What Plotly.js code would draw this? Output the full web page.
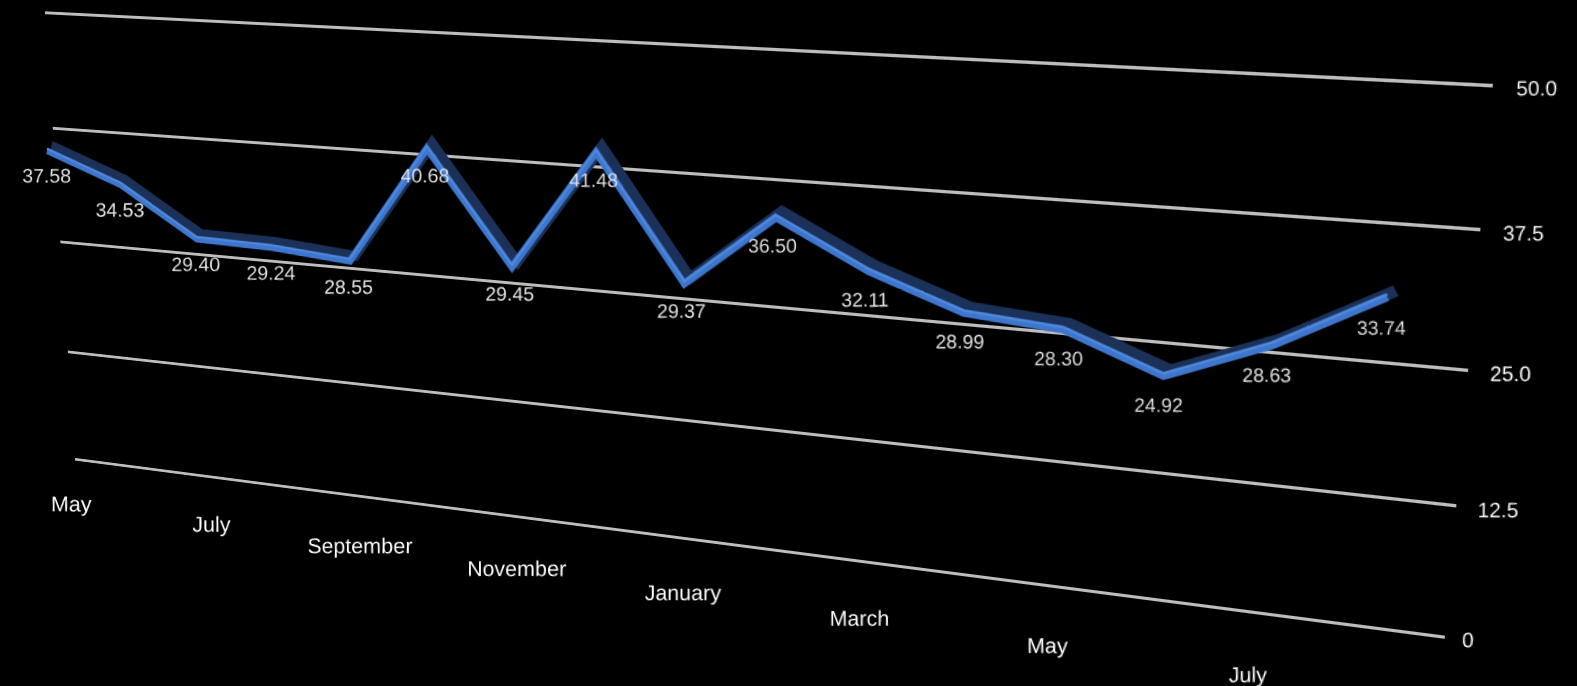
<!DOCTYPE html>
<html>
<head>
<meta charset="utf-8">
<script src="https://cdn.plot.ly/plotly-3.0.1.min.js"></script>
<style>
  html, body { margin: 0; padding: 0; background: #000; overflow: hidden; width: 1577px; height: 686px; }
  .layer { position: absolute; left: 0; top: 0; transform-origin: 0 0; }
</style>
</head>
<body>
<div id="grid" class="layer"></div>
<div id="series" class="layer"></div>
<script>
// Monthly values, May through August of the following year
const months = ["May", "June", "July", "August", "September", "October", "November", "December",
                "January", "February", "March", "April", "May", "June", "July", "August"];
const values = [37.58, 34.53, 29.40, 29.24, 28.55, 40.68, 29.45, 41.48,
                29.37, 36.50, 32.11, 28.99, 28.30, 24.92, 28.63, 33.74];
// Category labels shown on the floor (every other month)
const xTickIdx = [0, 2, 4, 6, 8, 10, 12, 14];
const xTickText = ["May", "July", "September", "November", "January", "March", "May", "July"];
// Value axis ticks
const yTickVals = [0, 12.5, 25, 37.5, 50];
const yTickText = ["0", "12.5", "25.0", "37.5", "50.0"];

// ---- flat frame shared by both layers ----
const M = { l: 80, t: 60, r: 150, b: 140 };
const W = 1400, H = 500;
const FW = M.l + W + M.r, FH = M.t + H + M.b;
const fontFamily = "Liberation Sans, Arial, Helvetica, sans-serif";

// Axis ranges of each layer
const gridX = [0, 1], gridY = [-0.8, 50.8];
const dataX = [-0.6, 15.6], dataY = [-0.8, 50.8];
const vMin = 0, vMax = 50, iFirst = 0, iLast = values.length - 1;

// Screen corners (top-left, top-right, bottom-right, bottom-left) of the back grid plane
// and of the series plane that sits a little in front of it
const gridQuad = [[45, 13], [1493, 86], [1445, 637], [75, 459]];
const dataQuad = [[39, 34], [1404, 106], [1355, 668], [70, 486]];

const fx = (x, r) => M.l + W * (x - r[0]) / (r[1] - r[0]);
const fy = (y, r) => M.t + H * (r[1] - y) / (r[1] - r[0]);

// Projective transform from four point pairs
function homography(src, dst) {
  const A = [], b = [];
  for (let k = 0; k < 4; k++) {
    const [x, y] = src[k], [u, v] = dst[k];
    A.push([x, y, 1, 0, 0, 0, -u * x, -u * y]); b.push(u);
    A.push([0, 0, 0, x, y, 1, -v * x, -v * y]); b.push(v);
  }
  const n = 8;
  for (let c = 0; c < n; c++) {
    let p = c;
    for (let r = c + 1; r < n; r++) if (Math.abs(A[r][c]) > Math.abs(A[p][c])) p = r;
    [A[c], A[p]] = [A[p], A[c]]; [b[c], b[p]] = [b[p], b[c]];
    for (let r = 0; r < n; r++) {
      if (r === c) continue;
      const f = A[r][c] / A[c][c];
      for (let k = c; k < n; k++) A[r][k] -= f * A[c][k];
      b[r] -= f * b[c];
    }
  }
  const h = b.map((val, i) => val / A[i][i]);
  return [h[0], h[1], h[2], h[3], h[4], h[5], h[6], h[7], 1];
}
// Local linear part of the projective map at a flat point
function jacobian(h, x, y) {
  const w = h[6] * x + h[7] * y + h[8];
  const u = (h[0] * x + h[1] * y + h[2]) / w, v = (h[3] * x + h[4] * y + h[5]) / w;
  return [(h[0] - u * h[6]) / w, (h[1] - u * h[7]) / w, (h[3] - v * h[6]) / w, (h[4] - v * h[7]) / w];
}
function applyTransform(id, h) {
  const el = document.getElementById(id);
  el.style.width = FW + "px";
  el.style.height = FH + "px";
  el.style.transform = "matrix3d(" +
    [h[0], h[3], 0, h[6], h[1], h[4], 0, h[7], 0, 0, 1, 0, h[2], h[5], 0, h[8]].join(",") + ")";
}
// Keep labels upright and at their nominal size on screen: each text gets the
// inverse of the plane's local distortion, applied around its own centre
function uprightText(id, h, selector) {
  document.querySelectorAll("#" + id + " " + selector).forEach(t => {
    const svg = t.ownerSVGElement;
    const bb = t.getBBox();
    const ctm = t.getCTM();
    const parentCtm = t.parentNode.getCTM();
    const pt = svg.createSVGPoint();
    pt.x = bb.x + bb.width / 2; pt.y = bb.y + bb.height / 2;
    const c = pt.matrixTransform(ctm);
    const [a, b, cc, d] = jacobian(h, c.x, c.y);
    const det = a * d - b * cc;
    const inv = svg.createSVGMatrix();
    inv.a = d / det; inv.b = -cc / det; inv.c = -b / det; inv.d = a / det; inv.e = 0; inv.f = 0;
    const corr = svg.createSVGMatrix().translate(c.x, c.y).multiply(inv).translate(-c.x, -c.y);
    const local = parentCtm.inverse().multiply(corr).multiply(ctm);
    t.transform.baseVal.initialize(t.transform.baseVal.createSVGTransformFromMatrix(local));
  });
}

const hGrid = homography([
  [fx(gridX[0], gridX), fy(vMax, gridY)], [fx(gridX[1], gridX), fy(vMax, gridY)],
  [fx(gridX[1], gridX), fy(vMin, gridY)], [fx(gridX[0], gridX), fy(vMin, gridY)]
], gridQuad);
const hData = homography([
  [fx(iFirst, dataX), fy(vMax, dataY)], [fx(iLast, dataX), fy(vMax, dataY)],
  [fx(iLast, dataX), fy(vMin, dataY)], [fx(iFirst, dataX), fy(vMin, dataY)]
], dataQuad);
applyTransform("grid", hGrid);
applyTransform("series", hData);

// ---- back plane: value gridlines and their labels ----
Plotly.newPlot("grid", [{
  type: "scatter", mode: "lines", x: [], y: [], hoverinfo: "skip", showlegend: false
}], {
  width: FW, height: FH,
  paper_bgcolor: "#000", plot_bgcolor: "#000",
  margin: { l: M.l, r: M.r, t: M.t, b: M.b, pad: 0 },
  showlegend: false,
  xaxis: { range: gridX, visible: false, fixedrange: true },
  yaxis: {
    range: gridY, side: "right",
    tickmode: "array", tickvals: yTickVals, ticktext: yTickText,
    showgrid: true, gridcolor: "#bdbdbd", gridwidth: 3,
    zeroline: false, showline: false, ticks: "",
    ticklabelstandoff: 12,
    tickfont: { family: fontFamily, size: 21, color: "#ffffff" }
  }
}, { displayModeBar: false, staticPlot: true })
  .then(() => uprightText("grid", hGrid, ".ytick text"));

// ---- front plane: the series ribbon, value labels and month labels ----
const idx = values.map((_, i) => i);

const seriesTraces = [
  // Dark extruded side of the ribbon
  {
    type: "scatter", mode: "lines",
    x: idx.map(i => i + 0.07), y: values.map(v => v + 0.6),
    line: { color: "#1b3158", width: 10 },
    hoverinfo: "skip", showlegend: false, cliponaxis: false
  },
  // Main series line
  {
    type: "scatter", mode: "lines",
    x: idx, y: values,
    line: { color: "#3d76cc", width: 7 },
    hoverinfo: "skip", showlegend: false, cliponaxis: false
  },
  // Light upper edge of the ribbon
  {
    type: "scatter", mode: "lines",
    x: idx, y: values.map(v => v + 0.22),
    line: { color: "#5089db", width: 2 },
    hoverinfo: "skip", showlegend: false, cliponaxis: false
  },
  // Value labels under each point
  {
    type: "scatter", mode: "markers+text",
    x: idx.map(i => i - 0.03), y: values,
    text: values.map(v => v.toFixed(2)),
    textposition: "bottom center",
    marker: { size: 28, color: "rgba(0,0,0,0)" },
    textfont: { family: fontFamily, size: 19.5, color: "#e2e2e2" },
    hoverinfo: "skip", showlegend: false, cliponaxis: false
  },
  // Month labels along the floor
  {
    type: "scatter", mode: "markers+text",
    x: xTickIdx, y: xTickIdx.map(() => 0),
    text: xTickText,
    textposition: "bottom center",
    marker: { size: 17, color: "rgba(0,0,0,0)" },
    textfont: { family: fontFamily, size: 21.5, color: "#ffffff" },
    hoverinfo: "skip", showlegend: false, cliponaxis: false
  }
];

Plotly.newPlot("series", seriesTraces, {
  width: FW, height: FH,
  paper_bgcolor: "rgba(0,0,0,0)", plot_bgcolor: "rgba(0,0,0,0)",
  margin: { l: M.l, r: M.r, t: M.t, b: M.b, pad: 0 },
  showlegend: false,
  xaxis: { range: dataX, visible: false, fixedrange: true },
  yaxis: { range: dataY, visible: false, fixedrange: true }
}, { displayModeBar: false, staticPlot: true })
  .then(() => uprightText("series", hData, ".textpoint text"));
</script>
</body>
</html>
